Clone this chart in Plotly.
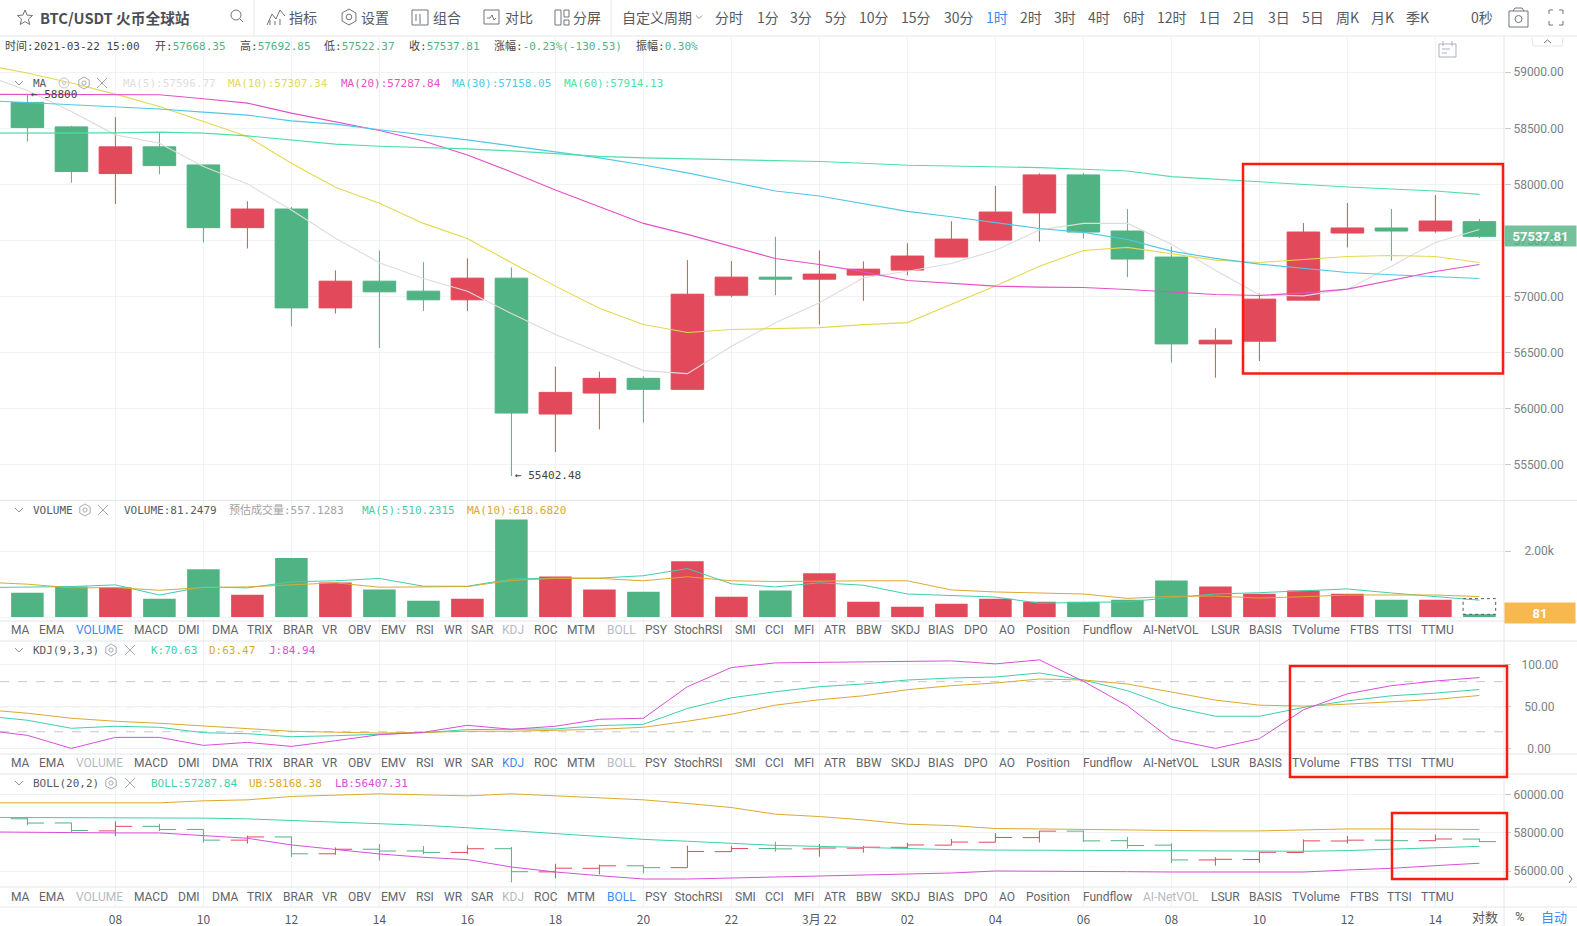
import math

import plotly.graph_objects as go

W, H = 1577, 926
SANS = "Roboto, Noto Sans CJK SC, sans-serif"
CJK = "Noto Sans CJK SC, Roboto, sans-serif"
MONO = "DejaVu Sans Mono, Noto Sans CJK SC, monospace"

GREEN = "#50b383"
RED = "#e24a5b"
GRID = "#f0f3f6"
BORDER = "#e3e6ea"
TEXT = "#5f646c"
MUTED = "#b7babf"
BLUE = "#3d8bf2"
TEAL = "#3ed0ac"
GOLD = "#dba92e"
MAGENTA = "#d84fd8"
BOX_RED = "#fb1c10"

# hourly candles, 06:00 on the 21st to 15:00 on the 22nd
OPEN = [58731, 58513, 58097, 58335, 58174, 57615, 57781, 56900, 57138, 57049, 56972, 57165,
        55954, 56141, 56272, 56174, 57013, 57174, 57156, 57192, 57237, 57353, 57504, 57746,
        58085, 57585, 57353, 56579, 56603, 56969, 57567, 57612, 57585, 57668.35]
HIGH = [58800, 58522, 58600, 58466, 58174, 57850, 57799, 57234, 57412, 57308, 57341, 57260,
        56376, 56332, 56290, 57326, 57317, 57534, 57412, 57314, 57475, 57671, 57987, 58100,
        58100, 57781, 57445, 56719, 57028, 57656, 57835, 57781, 57906, 57692.85]
LOW = [58382, 58016, 57826, 58091, 57484, 57430, 56734, 56850, 56543, 56873, 56873, 55402.48,
       55614, 55817, 55876, 56174, 56995, 57013, 56751, 56963, 57189, 57353, 57504, 57490,
       57519, 57174, 56412, 56278, 56427, 56969, 57439, 57320, 57570, 57522.37]
CLOSE = [58507, 58115, 58335, 58168, 57615, 57781, 56900, 57138, 57043, 56972, 57165, 55963,
         56147, 56272, 56174, 57022, 57174, 57156, 57201, 57245, 57362, 57513, 57754, 58085,
         57576, 57335, 56579, 56612, 56978, 57576, 57612, 57585, 57674, 57537.81]

# line series start one hour earlier, off the left edge
MA5 = [58978, 58838, 58651, 58442, 58368, 58160, 58005, 57773, 57520, 57303, 57162, 57049,
       56850, 56662, 56502, 56341, 56314, 56558, 56767, 56945, 57168, 57227, 57296, 57412,
       57593, 57653, 57653, 57468, 57236, 57016, 57007, 57067, 57272, 57483, 57599]
MA10 = [59067, 58993, 58904, 58805, 58695, 58558, 58427, 58189, 57975, 57832, 57653, 57519,
        57302, 57094, 56897, 56752, 56680, 56707, 56713, 56724, 56751, 56769, 56933, 57094,
        57272, 57412, 57439, 57385, 57326, 57305, 57332, 57358, 57367, 57358, 57305]
MA20 = [58803, 58802, 58799, 58799, 58799, 58764, 58725, 58636, 58561, 58481, 58388, 58263,
        58112, 57951, 57802, 57653, 57555, 57445, 57340, 57287, 57221, 57144, 57117, 57094,
        57085, 57082, 57064, 57043, 57019, 57010, 57034, 57067, 57147, 57224, 57287]
MA30 = [58749, 58731, 58710, 58692, 58672, 58645, 58618, 58567, 58538, 58487, 58442, 58397,
        58344, 58290, 58237, 58174, 58103, 58022, 57942, 57897, 57826, 57760, 57712, 57659,
        57608, 57573, 57510, 57406, 57341, 57290, 57251, 57216, 57195, 57180, 57162]
MA60 = [58457, 58457, 58457, 58460, 58466, 58457, 58433, 58398, 58359, 58341, 58330, 58317,
        58299, 58272, 58250, 58237, 58228, 58219, 58215, 58204, 58189, 58171, 58165, 58159,
        58150, 58135, 58120, 58070, 58046, 58019, 57995, 57977, 57960, 57942, 57912]

VOLUME = [738, 923, 892, 554, 1446, 677, 1785, 1046, 830, 492, 554, 2954, 1230, 830, 769, 1692,
          615, 800, 1323, 461, 308, 400, 554, 461, 461, 523, 1108, 923, 708, 800, 708, 523, 523, 81]
VOLUME_ESTIMATE = 557.1283
VOL_MA5 = [892, 913, 923, 974, 667, 913, 882, 1067, 1097, 1169, 933, 933, 1149, 1179, 1179, 1251,
           1467, 1005, 913, 1036, 964, 697, 646, 605, 420, 431, 462, 585, 697, 738, 800, 851, 728,
           626, 510]
VOL_MA10 = [1056, 995, 882, 892, 810, 892, 913, 985, 1036, 903, 913, 923, 1108, 1169, 1169, 1097,
            1220, 1097, 1077, 1097, 1097, 1097, 820, 759, 728, 697, 564, 626, 636, 574, 615, 667,
            667, 667, 619]

KDJ_K = [39.0, 33.8, 24.2, 26.6, 25.4, 18.9, 17.7, 14.1, 15.3, 17.0, 18.9, 22.6, 23.0, 23.4, 27.4,
         29.0, 47.9, 60.7, 67.9, 74.0, 77.2, 82.0, 84.4, 85.6, 90.4, 82.0, 69.2, 49.9, 38.6, 38.6,
         49.1, 57.1, 63.1, 66.3, 70.63]
KDJ_D = [46.7, 42.2, 36.2, 32.6, 30.2, 26.6, 23.8, 20.6, 19.3, 18.5, 19.3, 20.6, 20.6, 21.8, 23.0,
         25.4, 32.6, 41.0, 51.9, 58.3, 63.1, 70.4, 75.2, 78.4, 83.2, 82.0, 77.2, 67.6, 57.9, 51.9,
         50.7, 53.1, 56.3, 58.7, 63.47]
KDJ_J = [22.2, 15.7, 0.1, 13.3, 13.3, 3.7, 7.3, 2.5, 9.3, 16.5, 19.3, 27.8, 23.0, 26.6, 35.0, 36.2,
         74.0, 96.9, 102.5, 103.3, 103.7, 104.5, 104.9, 101.3, 106.1, 80.4, 51.1, 10.9, 0.1, 11.7,
         46.3, 65.5, 75.2, 80.8, 84.94]
KDJ_LEVELS = [20, 50, 80]

BOLL_UB = [59564, 59564, 59564, 59564, 59564, 59669, 59721, 59896, 59983, 60035, 59983, 59931,
           60035, 59931, 59843, 59721, 59529, 59319, 58970, 58847, 58673, 58446, 58376, 58219,
           58201, 58166, 58149, 58131, 58096, 58096, 58149, 58201, 58201, 58201, 58168]
BOLL_LB = [58044, 58044, 58009, 57991, 57991, 57852, 57712, 57363, 57118, 56891, 56716, 56594,
           56209, 55947, 55755, 55581, 55581, 55633, 55703, 55738, 55790, 55878, 55895, 56000,
           56000, 56000, 55965, 55947, 55947, 55947, 55947, 56052, 56140, 56279, 56407]

X_LABELS = ["08", "10", "12", "14", "16", "18", "20", "22", "3月 22", "02", "04", "06", "08", "10", "12", "14"]
PRICE_TICKS = [55500, 56000, 56500, 57000, 57500, 58000, 58500, 59000]
BOLL_TICKS = [56000, 58000, 60000]

TABS = ["MA", "EMA", "VOLUME", "MACD", "DMI", "DMA", "TRIX", "BRAR", "VR", "OBV", "EMV", "RSI", "WR", "SAR",
        "KDJ", "ROC", "MTM", "BOLL", "PSY", "StochRSI", "SMI", "CCI", "MFI", "ATR", "BBW", "SKDJ", "BIAS",
        "DPO", "AO", "Position", "Fundflow", "AI-NetVOL", "LSUR", "BASIS", "TVolume", "FTBS", "TTSI", "TTMU"]
TAB_CENTERS = [20, 52, 99, 151, 189, 225, 260, 298, 330, 360, 393, 425, 453, 483, 513, 546, 581, 621, 656,
               698, 745, 774, 804, 835, 869, 905, 941, 976, 1007, 1048, 1107, 1171, 1225, 1265, 1316, 1364,
               1399, 1437]

PERIODS = ["分时", "1分", "3分", "5分", "10分", "15分", "30分", "1时", "2时", "3时", "4时", "6时", "12时", "1日",
           "2日", "3日", "5日", "周K", "月K", "季K"]
PERIOD_LEFTS = [715, 757, 790, 825, 859, 901, 944, 986, 1020, 1054, 1088, 1123, 1157, 1199, 1233, 1268,
                1302, 1336, 1371, 1406]

candle_x = list(range(len(CLOSE)))
line_x = list(range(-1, len(CLOSE)))
tick_x = list(range(2, 2 + 2 * len(X_LABELS), 2))
volume_colors = [RED if c > o else GREEN for o, c in zip(OPEN, CLOSE)]


def dom(top, bottom):
    return [1 - bottom / H, 1 - top / H]


def px(x, y):
    return x / W, 1 - y / H


annotations = []
shapes = []


def txt(x, y, text, color=TEXT, size=12, family=SANS, anchor="left"):
    # annotations pad their text by a couple of pixels
    ax, ay = px(x - 2 if anchor == "left" else x, y)
    annotations.append(dict(x=ax, y=ay, xref="paper", yref="paper", text=text, showarrow=False,
                            xanchor=anchor, yanchor="middle", font=dict(color=color, size=size, family=family)))


def path(points, color="#6f747c", width=1, closed=False):
    parts = []
    for n, (x, y) in enumerate(points):
        ax, ay = px(x, y)
        parts.append(f"{'M' if n == 0 else 'L'}{ax:.5f},{ay:.5f}")
    d = " ".join(parts) + (" Z" if closed else "")
    shapes.append(dict(type="path", path=d, xref="paper", yref="paper", line=dict(color=color, width=width)))


def circle(x, y, r, color="#6f747c", width=1):
    x0, y0 = px(x - r, y - r)
    x1, y1 = px(x + r, y + r)
    shapes.append(dict(type="circle", xref="paper", yref="paper", x0=x0, y0=y0, x1=x1, y1=y1,
                       line=dict(color=color, width=width)))


def rect(x0, y0, x1, y1, color="#6f747c", width=1):
    path([(x0, y0), (x1, y0), (x1, y1), (x0, y1)], color, width, closed=True)


def gear(x, y, r=6, color="#a7abb2"):
    pts = [(x + r * math.sin(math.pi * k / 3), y + r * math.cos(math.pi * k / 3)) for k in range(6)]
    path(pts, color, closed=True)
    circle(x, y, r * 0.35, color)


def cross(x, y, r=5, color="#a7abb2"):
    path([(x - r, y - r), (x + r, y + r)], color)
    path([(x - r, y + r), (x + r, y - r)], color)


def chevron(x, y, r=4, color="#8e939a"):
    path([(x - r, y - r / 2), (x, y + r / 2), (x + r, y - r / 2)], color)


def hline(y, x0=0, x1=W, color=BORDER):
    a0, ay = px(x0, y)
    a1, _ = px(x1, y)
    shapes.append(dict(type="line", xref="paper", yref="paper", x0=a0, x1=a1, y0=ay, y1=ay,
                       line=dict(color=color, width=1), layer="below"))


def vline(x, y0, y1, color=BORDER):
    ax, a0 = px(x, y0)
    _, a1 = px(x, y1)
    shapes.append(dict(type="line", xref="paper", yref="paper", x0=ax, x1=ax, y0=a0, y1=a1,
                       line=dict(color=color, width=1)))


def red_box(x0, y0, x1, y1):
    a0, b0 = px(x0, y0)
    a1, b1 = px(x1, y1)
    shapes.append(dict(type="rect", xref="paper", yref="paper", x0=a0, x1=a1, y0=b0, y1=b1,
                       line=dict(color=BOX_RED, width=2.5), layer="above"))


fig = go.Figure()

# main pane
fig.add_trace(go.Candlestick(x=candle_x, open=OPEN, high=HIGH, low=LOW, close=CLOSE, yaxis="y",
                             increasing=dict(line=dict(color=RED, width=1), fillcolor=RED),
                             decreasing=dict(line=dict(color=GREEN, width=1), fillcolor=GREEN),
                             whiskerwidth=0))
for values, color in [(MA5, "#dcdcdc"), (MA10, "#e5d850"), (MA20, "#e64fc6"), (MA30, "#4fc8e6"), (MA60, "#4fdfa8")]:
    fig.add_trace(go.Scatter(x=line_x, y=values, mode="lines", yaxis="y", line=dict(color=color, width=1.1)))

# volume pane
fig.add_trace(go.Bar(x=candle_x, y=VOLUME, yaxis="y2", width=0.74, marker=dict(color=volume_colors, line=dict(width=0))))
fig.add_trace(go.Scatter(x=line_x, y=VOL_MA5, mode="lines", yaxis="y2", line=dict(color=TEAL, width=1)))
fig.add_trace(go.Scatter(x=line_x, y=VOL_MA10, mode="lines", yaxis="y2", line=dict(color=GOLD, width=1)))

# KDJ pane
fig.add_trace(go.Scatter(x=line_x, y=KDJ_K, mode="lines", yaxis="y3", line=dict(color=TEAL, width=1)))
fig.add_trace(go.Scatter(x=line_x, y=KDJ_D, mode="lines", yaxis="y3", line=dict(color=GOLD, width=1)))
fig.add_trace(go.Scatter(x=line_x, y=KDJ_J, mode="lines", yaxis="y3", line=dict(color=MAGENTA, width=1)))

# BOLL pane
fig.add_trace(go.Ohlc(x=candle_x, open=OPEN, high=HIGH, low=LOW, close=CLOSE, yaxis="y4", tickwidth=0.38,
                      increasing=dict(line=dict(color=RED, width=1)),
                      decreasing=dict(line=dict(color=GREEN, width=1))))
fig.add_trace(go.Scatter(x=line_x, y=MA20, mode="lines", yaxis="y4", line=dict(color=TEAL, width=1)))
fig.add_trace(go.Scatter(x=line_x, y=BOLL_UB, mode="lines", yaxis="y4", line=dict(color=GOLD, width=1)))
fig.add_trace(go.Scatter(x=line_x, y=BOLL_LB, mode="lines", yaxis="y4", line=dict(color=MAGENTA, width=1)))

# full-height vertical grid, one line per x tick
for t in tick_x:
    shapes.append(dict(type="line", xref="x", yref="paper", x0=t, x1=t, y0=1 - 907 / H, y1=1 - 36 / H,
                       line=dict(color=GRID, width=1), layer="below"))

for y in [36, 500.5, 621, 641, 754, 774, 887, 907]:
    hline(y)
vline(1504, 36, 926)
vline(254, 0, 36)
vline(611, 0, 36)

# KDJ reference levels
for level in KDJ_LEVELS:
    shapes.append(dict(type="line", xref="paper", yref="y3", x0=0, x1=1504 / W, y0=level, y1=level,
                       line=dict(color="#c6c8cb", width=1, dash="dash"), layer="below"))

# dashed outline of the estimated volume of the open candle
shapes.append(dict(type="rect", xref="x", yref="y2", x0=candle_x[-1] - 0.37, x1=candle_x[-1] + 0.37,
                   y0=VOLUME[-1], y1=VOLUME_ESTIMATE, line=dict(color="#555a62", width=1, dash="dot")))

red_box(1243, 164, 1503, 373.5)
red_box(1290, 666, 1507, 777)
red_box(1392, 813, 1507, 879)

# toolbar
star = [(25 + (8 if k % 2 == 0 else 3.6) * math.sin(math.pi * k / 5),
         18 - (8 if k % 2 == 0 else 3.6) * math.cos(math.pi * k / 5)) for k in range(10)]
path(star, closed=True)
txt(40, 17, "<b>BTC/USDT 火币全球站</b>", "#4a4f57", 14.7, CJK)
circle(236, 15, 5)
path([(240, 19), (243, 22)])
path([(267, 25), (272, 14), (276, 19), (280, 10), (285, 16)])
path([(270, 25), (270, 20)])
path([(275, 25), (275, 21)])
path([(280, 25), (280, 19)])
gear(349, 17, 8, "#6f747c")
rect(412, 10, 428, 25)
path([(416, 14), (416, 21)])
path([(420, 14), (420, 24)])
rect(484, 10, 499, 24)
path([(487, 18), (490, 18), (492, 15), (494, 20), (496, 18)])
rect(555, 10, 561, 25)
rect(564, 10, 569, 17)
rect(564, 20, 569, 25)
for label, left in [("指标", 289), ("设置", 361), ("组合", 433), ("对比", 505), ("分屏", 573), ("自定义周期", 622)]:
    txt(left, 17, label, "#555a62", 14, CJK)
chevron(699, 17, 3)
for label, left in zip(PERIODS, PERIOD_LEFTS):
    txt(left, 17, label, BLUE if label == "1时" else "#555a62", 14, CJK)
txt(1471, 17, "0秒", "#555a62", 14, CJK)
rect(1509, 11, 1528, 27)
path([(1513, 11), (1515, 8), (1522, 8), (1524, 11)])
circle(1518.5, 19, 3.5)
for cx, cy, dx, dy in [(1549, 10, 1, 1), (1563, 10, -1, 1), (1549, 25, 1, -1), (1563, 25, -1, -1)]:
    path([(cx + 4 * dx, cy + dy * 0), (cx, cy), (cx, cy + 4 * dy)])

# calendar and collapse markers
rect(1439, 44, 1456, 57, "#a8b2c2")
path([(1443, 41), (1443, 46)], "#a8b2c2")
path([(1452, 41), (1452, 46)], "#a8b2c2")
path([(1442, 49), (1450, 49)], "#a8b2c2")
path([(1442, 53), (1447, 53)], "#a8b2c2")
path([(1532, 37), (1533, 46), (1562, 46), (1563, 37)], BORDER)
path([(1544, 43), (1547.5, 40), (1551, 43)], "#6f747c")
path([(1569, 875), (1572, 879), (1569, 883)], "#6f747c")

# info line and pane legends
INFO = [(5, "时间:", "2021-03-22 15:00", "#444"), (155, "开:", "57668.35", GREEN), (240, "高:", "57692.85", GREEN),
        (324, "低:", "57522.37", GREEN), (409, "收:", "57537.81", GREEN),
        (494, "涨幅:", "-0.23%(-130.53)", GREEN), (636, "振幅:", "0.30%", GREEN)]
for left, label, value, color in INFO:
    txt(left, 46.5, f'<span style="color:#444">{label}</span>{value}', color, 11, MONO)

chevron(19, 83)
txt(33, 83, "MA", "#555a62", 11, MONO)
circle(64, 83, 5, "#c3c6cb")
circle(64, 83, 1.5, "#c3c6cb")
gear(84, 83)
cross(102, 83)
for left, label, color in [(123, "MA(5):57596.77", "#dedede"), (228, "MA(10):57307.34", "#e5d85c"),
                           (341, "MA(20):57287.84", "#e64fc6"), (452, "MA(30):57158.05", "#4fc8e6"),
                           (564, "MA(60):57914.13", "#4fdfa8")]:
    txt(left, 83, label, color, 11, MONO)

chevron(19, 510)
txt(33, 510, "VOLUME", "#555a62", 11, MONO)
gear(85, 510)
cross(103, 510)
for left, label, color in [(124, "VOLUME:81.2479", "#555a62"), (229, "预估成交量:557.1283", "#a0a3a8"),
                           (362, "MA(5):510.2315", TEAL), (467, "MA(10):618.6820", GOLD)]:
    txt(left, 510, label, color, 11, MONO)

chevron(19, 650)
txt(33, 650, "KDJ(9,3,3)", "#555a62", 11, MONO)
gear(111, 650)
cross(130, 650)
for left, label, color in [(151, "K:70.63", TEAL), (209, "D:63.47", GOLD), (269, "J:84.94", MAGENTA)]:
    txt(left, 650, label, color, 11, MONO)

chevron(19, 783)
txt(33, 783, "BOLL(20,2)", "#555a62", 11, MONO)
gear(111, 783)
cross(130, 783)
for left, label, color in [(151, "BOLL:57287.84", TEAL), (249, "UB:58168.38", GOLD), (335, "LB:56407.31", MAGENTA)]:
    txt(left, 783, label, color, 11, MONO)

# indicator tab rows
for row_y, active, dimmed in [(630, "VOLUME", ["KDJ", "BOLL"]), (763, "KDJ", ["VOLUME", "BOLL"]),
                              (896.5, "BOLL", ["VOLUME", "KDJ", "AI-NetVOL"])]:
    for label, center in zip(TABS, TAB_CENTERS):
        color = BLUE if label == active else MUTED if label in dimmed else TEXT
        txt(center, row_y, label, color, 12, SANS, "center")

# price extremes and last-value tags
annotations.append(dict(x=candle_x[0], y=HIGH[0], xref="x", yref="y", text="← 58800", showarrow=False,
                        xanchor="left", yanchor="middle", xshift=2, font=dict(color="#444", size=11, family=MONO)))
annotations.append(dict(x=candle_x[11], y=LOW[11], xref="x", yref="y", text="← 55402.48", showarrow=False,
                        xanchor="left", yanchor="middle", xshift=2, font=dict(color="#444", size=11, family=MONO)))
annotations.append(dict(x=1504 / W, y=CLOSE[-1], xref="paper", yref="y", text="<b>57537.81</b>", showarrow=False,
                        xanchor="left", yanchor="middle", width=71, height=20, bgcolor="rgba(80,179,131,0.8)",
                        borderpad=0, font=dict(color="white", size=13, family=SANS)))
annotations.append(dict(x=1504 / W, y=VOLUME[-1], xref="paper", yref="y2", text="<b>81</b>", showarrow=False,
                        xanchor="left", yanchor="middle", width=70, height=20, bgcolor="#f7b84f", borderpad=0,
                        yshift=1, font=dict(color="white", size=13, family=SANS)))

txt(1485, 916.5, "对数", "#555a62", 13, CJK, "center")
txt(1520, 916.5, "%", "#555a62", 13, SANS, "center")
txt(1554, 916.5, "自动", BLUE, 13, CJK, "center")


def price_axis(top, bottom, rng, ticks, labels, standoff=0):
    return dict(domain=dom(top, bottom), range=rng, side="right", anchor="x", tickmode="array", tickvals=ticks,
                ticktext=labels, showgrid=True, gridcolor=GRID, gridwidth=1, zeroline=False, ticks="outside",
                ticklen=6, tickcolor="#c8cbd0", tickfont=dict(color="#7b7f86", size=12, family=SANS),
                ticklabelstandoff=standoff, showline=False, fixedrange=True)


fig.update_layout(
    width=W,
    height=H,
    margin=dict(l=0, r=0, t=0, b=0),
    paper_bgcolor="white",
    plot_bgcolor="white",
    showlegend=False,
    boxgap=0.26,
    boxgroupgap=0,
    shapes=shapes,
    annotations=annotations,
    xaxis=dict(domain=[0, 1504 / W], range=[-0.623, 33.559], anchor="free", position=1 - 907 / H,
               tickmode="array", tickvals=tick_x, ticktext=X_LABELS, showgrid=False, zeroline=False,
               ticks="outside", ticklen=2, tickcolor="rgba(0,0,0,0)", rangeslider=dict(visible=False),
               tickfont=dict(color="#555a62", size=12, family=CJK), fixedrange=True),
    yaxis=price_axis(36, 501, [55179, 59323], PRICE_TICKS, [f"{v:.2f}" for v in PRICE_TICKS]),
    yaxis2=price_axis(501, 622, [-151, 3515], [0, 2000], ["", "2.00k"], 11),
    yaxis3=price_axis(642, 755, [-7.8, 127.5], [0, 50, 100], ["\u00a0\u00a00.00", "\u00a050.00", "100.00"], 8),
    yaxis4=price_axis(775, 888, [55111, 61020], BOLL_TICKS, [f"{v:.2f}" for v in BOLL_TICKS]),
)

fig.write_html("out.html", config={"displayModeBar": False},
               post_script="document.body.style.margin='0';document.body.style.overflow='hidden';")
